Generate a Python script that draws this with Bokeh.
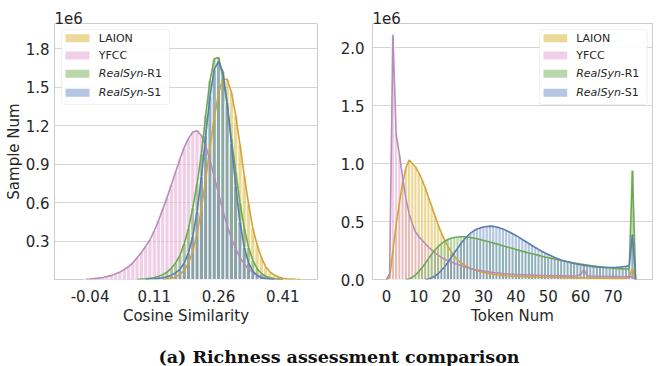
from bokeh.plotting import figure
from bokeh.layouts import column, row
from bokeh.models import (FixedTicker, Label, BoxAnnotation, Range1d,
                          PrintfTickFormatter, Div)
from bokeh.embed import file_html
from bokeh.resources import INLINE

# ---------------- data (values in units of 1e6 samples) ----------------
series_names = ["LAION", "YFCC", "RealSyn-R1", "RealSyn-S1"]

cos_x = [-0.05, -0.04, -0.03, -0.02, -0.01, 0.00, 0.01, 0.02, 0.03, 0.04,
         0.05, 0.06, 0.07, 0.08, 0.09, 0.10, 0.11, 0.12, 0.13, 0.14,
         0.15, 0.16, 0.17, 0.18, 0.19, 0.20, 0.21, 0.22, 0.23, 0.24,
         0.25, 0.26, 0.27, 0.28, 0.29, 0.30, 0.31, 0.32, 0.33, 0.34,
         0.35, 0.36, 0.37, 0.38, 0.39, 0.40, 0.41, 0.42, 0.43, 0.44, 0.45]

cos_laion = [0, 0, 0, 0, 0, 0, 0, 0, 0, 0,
             0, 0, 0, 0, 0, 0, 0, 0, 0, 0.005,
             0.01, 0.02, 0.04, 0.07, 0.13, 0.22, 0.36, 0.55, 0.78, 1.03,
             1.26, 1.45, 1.56, 1.56, 1.46, 1.28, 1.05, 0.81, 0.59, 0.40,
             0.27, 0.17, 0.10, 0.06, 0.035, 0.02, 0.01, 0.005, 0.003, 0.001, 0]

cos_yfcc = [0.002, 0.004, 0.007, 0.011, 0.016, 0.023, 0.032, 0.044, 0.059, 0.078,
            0.10, 0.13, 0.17, 0.21, 0.26, 0.31, 0.38, 0.46, 0.55, 0.64,
            0.74, 0.84, 0.94, 1.03, 1.10, 1.15, 1.16, 1.12, 1.04, 0.93,
            0.80, 0.67, 0.54, 0.42, 0.32, 0.24, 0.17, 0.12, 0.08, 0.055,
            0.035, 0.022, 0.013, 0.008, 0.004, 0.002, 0, 0, 0, 0, 0]

cos_r1 = [0, 0, 0, 0, 0, 0, 0, 0, 0, 0,
          0, 0, 0, 0.003, 0.006, 0.010, 0.016, 0.025, 0.038, 0.058,
          0.09, 0.13, 0.19, 0.28, 0.40, 0.56, 0.75, 0.98, 1.28, 1.55,
          1.72, 1.73, 1.58, 1.36, 1.10, 0.84, 0.60, 0.40, 0.25, 0.15,
          0.085, 0.047, 0.025, 0.013, 0.006, 0.003, 0, 0, 0, 0, 0]

cos_s1 = [0, 0, 0, 0, 0, 0, 0, 0, 0, 0,
          0, 0, 0, 0, 0, 0.004, 0.006, 0.009, 0.014, 0.022,
          0.034, 0.052, 0.08, 0.13, 0.21, 0.34, 0.53, 0.80, 1.12, 1.43,
          1.64, 1.70, 1.62, 1.38, 1.06, 0.73, 0.45, 0.25, 0.13, 0.065,
          0.03, 0.014, 0.006, 0.003, 0, 0, 0, 0, 0, 0, 0]

token_x = list(range(78))

tok_laion = [0, 0.02, 0.25, 0.47, 0.66, 0.83, 0.96, 1.03, 1.00, 0.97,
             0.92, 0.86, 0.79, 0.71, 0.63, 0.55, 0.47, 0.40, 0.34, 0.285,
             0.24, 0.20, 0.17, 0.145, 0.125, 0.11, 0.095, 0.085, 0.075, 0.067,
             0.06, 0.055, 0.05, 0.045, 0.041, 0.038, 0.035, 0.032, 0.030, 0.029,
             0.028, 0.027, 0.026, 0.025, 0.024, 0.023, 0.022, 0.021, 0.02, 0.02,
             0.019, 0.018, 0.018, 0.017, 0.017, 0.016, 0.016, 0.015, 0.015, 0.014,
             0.014, 0.013, 0.013, 0.012, 0.012, 0.012, 0.011, 0.011, 0.011, 0.01,
             0.01, 0.01, 0.01, 0.01, 0.012, 0.02, 0.095, 0]

tok_yfcc = [0, 0.05, 2.11, 1.25, 1.08, 0.88, 0.70, 0.57, 0.48, 0.41,
            0.37, 0.34, 0.31, 0.28, 0.255, 0.23, 0.21, 0.19, 0.175, 0.16,
            0.15, 0.14, 0.13, 0.12, 0.11, 0.102, 0.095, 0.088, 0.082, 0.077,
            0.072, 0.068, 0.064, 0.06, 0.057, 0.054, 0.051, 0.049, 0.047, 0.045,
            0.043, 0.042, 0.041, 0.04, 0.039, 0.038, 0.037, 0.036, 0.035, 0.034,
            0.033, 0.033, 0.032, 0.032, 0.031, 0.031, 0.03, 0.03, 0.03, 0.032,
            0.045, 0.085, 0.035, 0.028, 0.028, 0.027, 0.027, 0.026, 0.026, 0.025,
            0.025, 0.025, 0.024, 0.024, 0.024, 0.025, 0.02, 0]

tok_r1 = [0, 0, 0, 0, 0, 0, 0, 0.005, 0.02, 0.04,
          0.07, 0.10, 0.14, 0.18, 0.22, 0.255, 0.285, 0.31, 0.33, 0.345,
          0.355, 0.362, 0.366, 0.368, 0.368, 0.366, 0.362, 0.357, 0.351, 0.344,
          0.337, 0.33, 0.323, 0.315, 0.307, 0.299, 0.291, 0.283, 0.275, 0.267,
          0.259, 0.251, 0.243, 0.236, 0.229, 0.222, 0.215, 0.208, 0.201, 0.194,
          0.188, 0.182, 0.176, 0.17, 0.164, 0.158, 0.153, 0.148, 0.143, 0.138,
          0.133, 0.129, 0.125, 0.121, 0.117, 0.113, 0.11, 0.107, 0.104, 0.101,
          0.098, 0.096, 0.094, 0.092, 0.09, 0.09, 0.94, 0]

tok_s1 = [0, 0, 0, 0, 0, 0, 0, 0, 0, 0,
          0, 0, 0, 0.005, 0.015, 0.03, 0.05, 0.08, 0.11, 0.15,
          0.19, 0.23, 0.27, 0.31, 0.345, 0.375, 0.40, 0.42, 0.435, 0.445,
          0.452, 0.457, 0.46, 0.458, 0.452, 0.445, 0.435, 0.423, 0.41, 0.395,
          0.38, 0.363, 0.345, 0.328, 0.31, 0.293, 0.276, 0.26, 0.244, 0.229,
          0.215, 0.202, 0.19, 0.179, 0.169, 0.16, 0.152, 0.145, 0.138, 0.132,
          0.127, 0.122, 0.118, 0.114, 0.111, 0.108, 0.106, 0.104, 0.103, 0.103,
          0.104, 0.105, 0.107, 0.11, 0.113, 0.118, 0.39, 0]

cos_ticks = [-0.04, 0.11, 0.26, 0.41]
cos_yticks = [0.3, 0.6, 0.9, 1.2, 1.5, 1.8]
tok_ticks = [0, 10, 20, 30, 40, 50, 60, 70]
tok_yticks = [0.0, 0.5, 1.0, 1.5, 2.0]

# ---------------- styles ----------------
FILL = ["#dcb330", "#e4a2d0", "#76af57", "#6a8ec4"]
LINE = ["#d2a43c", "#b98bb9", "#6da955", "#5a7eae"]
TXT = "#262626"
FONT = "DejaVu Sans"


def style(p):
    p.outline_line_color = "#cccccc"
    p.outline_line_width = 1
    p.xgrid.visible = False
    p.ygrid.grid_line_color = "#d4d4d4"
    p.ygrid.grid_line_width = 1
    p.background_fill_color = "white"
    p.border_fill_color = "white"
    p.title.text = "1e6"
    p.title.align = "left"
    p.title.text_font = FONT
    p.title.text_font_size = "15px"
    p.title.text_font_style = "normal"
    p.title.text_color = TXT
    p.title.standoff = 0
    p.title.offset = 0
    for ax in (p.xaxis[0], p.yaxis[0]):
        ax.axis_line_color = None
        ax.major_tick_line_color = None
        ax.minor_tick_line_color = None
        ax.major_tick_out = 0
        ax.major_tick_in = 0
        ax.major_label_text_font = FONT
        ax.major_label_text_font_size = "15px"
        ax.major_label_text_color = TXT
        ax.axis_label_text_font = FONT
        ax.axis_label_text_font_size = "15px"
        ax.axis_label_text_font_style = "normal"
        ax.axis_label_text_color = TXT
    p.xaxis[0].major_label_standoff = 10
    p.xaxis[0].axis_label_standoff = 2


def nonzero_span(ys):
    idx = [i for i, v in enumerate(ys) if v > 0]
    lo = max(idx[0] - 1, 0)
    hi = min(idx[-1] + 1, len(ys) - 1)
    return lo, hi


def draw(p, xs, ys_list, width):
    for ys, fc in zip(ys_list, FILL):
        bx = [x for x, v in zip(xs, ys) if v > 0]
        by = [v for v in ys if v > 0]
        p.vbar(x=bx, top=by, width=width, fill_color=fc, fill_alpha=0.5,
               line_color="white", line_width=0.8)
    for ys, lc in zip(ys_list, LINE):
        lo, hi = nonzero_span(ys)
        p.line(xs[lo:hi + 1], ys[lo:hi + 1], line_color=lc, line_width=1.6)


def add_legend(p, bx0, bx1, px0, px1, tx):
    top, bot = 250, 175
    rows = [241.3, 224.0, 205.7, 186.7]
    p.add_layout(BoxAnnotation(left=bx0, right=bx1, top=top, bottom=bot,
                               left_units="screen", right_units="screen",
                               top_units="screen", bottom_units="screen",
                               fill_color="white", fill_alpha=0.9,
                               line_color="#d2d2d2", line_width=1,
                               border_radius=3))
    parts = [("LAION", ""), ("YFCC", ""), ("RealSyn", "-R1"), ("RealSyn", "-S1")]
    for (a, b), ry, fc in zip(parts, rows, FILL):
        p.add_layout(BoxAnnotation(left=px0, right=px1, top=ry + 4, bottom=ry - 4,
                                   left_units="screen", right_units="screen",
                                   top_units="screen", bottom_units="screen",
                                   fill_color=fc, fill_alpha=0.5, line_color=None))
        italic = b != ""
        p.add_layout(Label(x=tx, y=ry, x_units="screen", y_units="screen", text=a,
                           text_font=FONT, text_font_size="11px", text_color=TXT,
                           text_font_style="italic" if italic else "normal",
                           text_baseline="middle"))
        if italic:
            p.add_layout(Label(x=tx + 44.5, y=ry, x_units="screen", y_units="screen",
                               text=b, text_font=FONT, text_font_size="11px",
                               text_color=TXT, text_baseline="middle"))


# ---------------- left panel ----------------
p1 = figure(frame_width=263, frame_height=256, output_backend="svg",
            toolbar_location=None,
            x_range=Range1d(-0.123, 0.491), y_range=Range1d(0, 1.995),
            min_border_left=54, min_border_right=11, min_border_top=23,
            min_border_bottom=52)
style(p1)
p1.xaxis[0].ticker = FixedTicker(ticks=cos_ticks)
p1.xaxis[0].formatter = PrintfTickFormatter(format="%.2f")
p1.yaxis[0].ticker = FixedTicker(ticks=cos_yticks)
p1.yaxis[0].formatter = PrintfTickFormatter(format="%.1f")
p1.yaxis[0].major_label_standoff = 5
p1.yaxis[0].axis_label_standoff = 0
p1.xaxis[0].axis_label = "Cosine Similarity"
p1.yaxis[0].axis_label = "Sample Num"
draw(p1, cos_x, [cos_laion, cos_yfcc, cos_r1, cos_s1], 0.01)
add_legend(p1, 7, 115, 11, 35, 44.3)

# ---------------- right panel ----------------
p2 = figure(frame_width=280, frame_height=256, output_backend="svg",
            toolbar_location=None,
            x_range=Range1d(-4.3, 82.2), y_range=Range1d(0, 2.207),
            min_border_left=44, min_border_right=16, min_border_top=23,
            min_border_bottom=52)
style(p2)
p2.xaxis[0].ticker = FixedTicker(ticks=tok_ticks)
p2.xaxis[0].formatter = PrintfTickFormatter(format="%d")
p2.yaxis[0].ticker = FixedTicker(ticks=tok_yticks)
p2.yaxis[0].formatter = PrintfTickFormatter(format="%.1f")
p2.yaxis[0].major_label_standoff = 8
p2.xaxis[0].axis_label = "Token Num"
draw(p2, token_x, [tok_laion, tok_yfcc, tok_r1, tok_s1], 1.0)
add_legend(p2, 167, 274.7, 171, 194.7, 203.7)

# ---------------- caption ----------------
cap = Div(text='<span style="position:relative;top:12px">'
               '(a) Richness assessment comparison</span>',
          width=668, height=35,
          styles={"font-family": "DejaVu Serif", "font-weight": "bold",
                  "font-size": "17.5px", "color": "#111111",
                  "text-align": "center", "line-height": "19px"})

layout = column(row(p1, p2), cap)
open("out.html", "w").write(file_html(layout, INLINE))
